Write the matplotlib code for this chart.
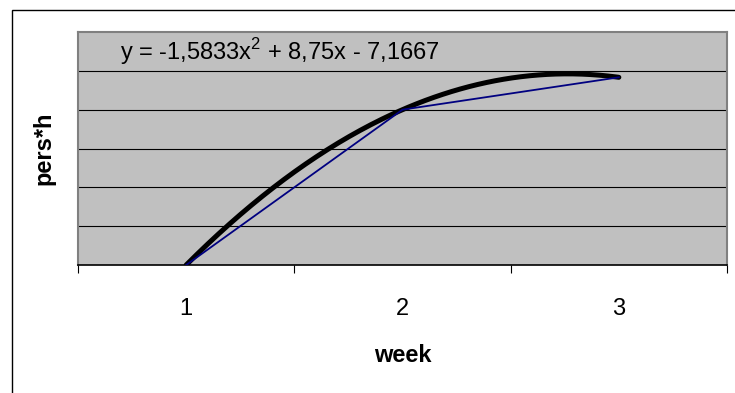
import numpy as np
import matplotlib.pyplot as plt
from matplotlib.patches import Rectangle

# data
weeks = [1, 2, 3]
pers_h = [0.0, 4.0, 4.8333]
equation = "y = -1,5833x$^2$ + 8,75x - 7,1667"

plt.rcParams['font.family'] = ['Liberation Sans', 'DejaVu Sans']
plt.rcParams['mathtext.fontset'] = 'custom'
plt.rcParams['mathtext.rm'] = 'Liberation Sans'
fig = plt.figure(figsize=(7.35, 3.93), dpi=100)

# outer chart frame (runs off the right/bottom edge)
fig.patches.append(Rectangle((12 / 735, -0.1), 1.0, 1 - 10 / 393 + 0.1,
                             transform=fig.transFigure, fill=False,
                             edgecolor='black', linewidth=1.0))

ax = fig.add_axes([78 / 735, 1 - 265 / 393, (727 - 78) / 735, (265 - 32) / 393])
ax.set_facecolor('#c0c0c0')

# horizontal gridlines
for y in range(1, 6):
    ax.axhline(y, color='black', linewidth=0.8, zorder=1)

# polynomial trendline (order 2)
coef = np.polyfit(weeks, pers_h, 2)
xs = np.linspace(weeks[0], weeks[-1], 200)
ax.plot(xs, np.polyval(coef, xs), color='black', linewidth=3.6,
        solid_capstyle='round', zorder=2)

# data series
ax.plot(weeks, pers_h, color='#000080', linewidth=1.3, zorder=3)

ax.set_xlim(0.5, 3.5)
ax.set_ylim(0, 6)

ax.set_yticks([])
ax.set_xticks([0.5, 1.5, 2.5, 3.5])
ax.set_xticklabels([])
ax.set_xticks(weeks, minor=True)
ax.set_xticklabels([str(w) for w in weeks], minor=True, fontsize=17)
ax.tick_params(axis='x', which='major', length=6, width=0.8, direction='out')
ax.tick_params(axis='x', which='minor', length=0, pad=24)

for s in ['left', 'right', 'top']:
    ax.spines[s].set_color('#808080')
    ax.spines[s].set_linewidth(1.5)
ax.spines['bottom'].set_color('black')
ax.spines['bottom'].set_linewidth(1.2)

ax.text(0.5 + (120 - 78) / 649 * 3, 5.5, equation, fontsize=17,
        va='center', ha='left')

ax.set_xlabel('week', fontsize=17, fontweight='bold', labelpad=17)
ax.set_ylabel('pers*h', fontsize=17, fontweight='bold', labelpad=16)

fig.savefig('out.png', dpi=100)
